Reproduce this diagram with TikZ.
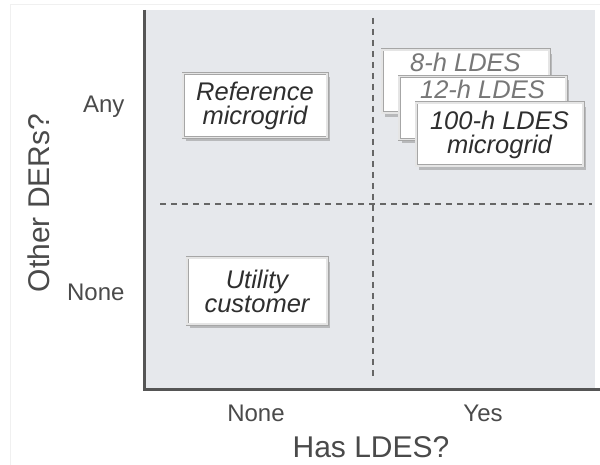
\documentclass[tikz,border=0pt]{standalone}
\usepackage{fontspec}
\setmainfont{Liberation Sans}
\usepackage{xcolor}
\usetikzlibrary{shadows,positioning}
\definecolor{plotbg}{HTML}{E6E8EC}
\definecolor{axisgray}{HTML}{555555}
\definecolor{txtgray}{HTML}{4A4A4A}
\definecolor{fadegray}{HTML}{777777}

\begin{document}
\begin{tikzpicture}[x=1pt,y=-1pt,
  box/.style={draw=gray!70,line width=.7pt,double=gray!20,double distance=1.6pt,
    fill=white,align=center,inner sep=0pt,text=black!82,
    font=\fontsize{25.5}{24}\selectfont\itshape,
    drop shadow={shadow xshift=3pt,shadow yshift=-4pt,fill=gray!85,opacity=.55}},
  ldes/.style={box,minimum width=167pt,minimum height=63pt},
  back/.style={ldes,text=fadegray,text height=19pt,text depth=38pt},
  tick/.style={font=\fontsize{24}{28}\selectfont,text=txtgray},
  axtitle/.style={font=\fontsize{30}{34}\selectfont,text=txtgray},
  grid line/.style={axisgray!90,line width=1.1pt,dash pattern=on 6pt off 5pt}]
  \useasboundingbox (0,0) rectangle (600,465);
  \draw[gray!12] (10,465) -- (10,4) -- (600,4);
  \fill[plotbg] (145,10) rectangle (595,388);
  \draw[axisgray,line width=3pt] (144,10) -- (144,389) -- (600,389);

  \coordinate (vtop) at (373,18);
  \coordinate (vbot) at (373,380);
  \coordinate (hleft) at (160,204);
  \coordinate (hright) at (592,204);
  \draw[grid line] (vtop) -- (vbot);
  \draw[grid line] (hleft) -- (hright);

  \node[box,minimum width=144pt,minimum height=64pt] (ref) at (255,105.5) {Reference\\microgrid};
  \node[box,minimum width=140pt,minimum height=66pt] (util) at (257,291) {Utility\\customer};
  \node[back] (h8) at (465.5,81.5) {8-h LDES};
  \node[back,on grid,below right=26.5pt and 17pt of h8] (h12) {12-h LDES};
  \node[ldes,on grid,below right=26.5pt and 17pt of h12] (h100) {100-h LDES\\microgrid};

  \node[tick,anchor=base east] (any) at (128,113) {Any};
  \node[tick,anchor=base east] (noney) at (128,300) {None};
  \node[tick,anchor=base] (nonex) at (256,421) {None};
  \node[tick,anchor=base] (yes) at (483,421) {Yes};
  \node[axtitle,anchor=base] (xtitle) at (371,457) {Has LDES?};
  \node[axtitle,anchor=base,rotate=90] (ytitle) at (49,203) {Other DERs?};
\end{tikzpicture}
\end{document}
